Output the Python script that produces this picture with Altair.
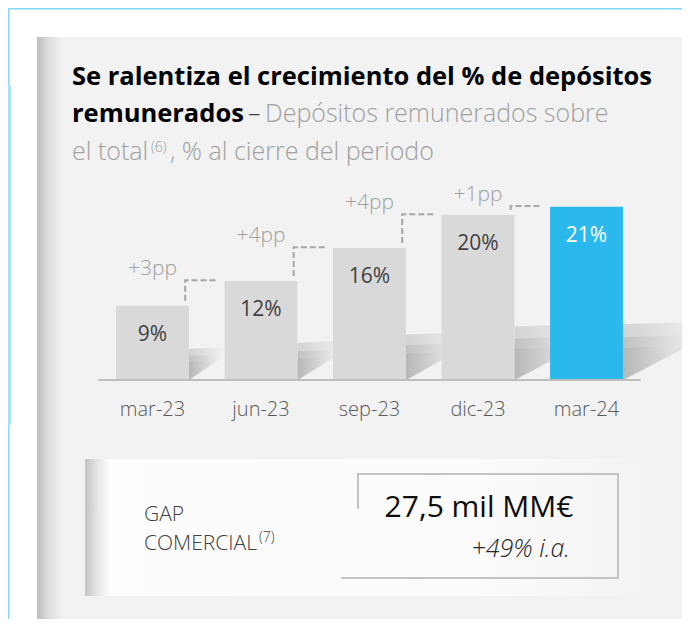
import altair as alt
import pandas as pd

# ---------------- data ----------------
categories = ["mar-23", "jun-23", "sep-23", "dic-23", "mar-24"]
values = [9, 12, 16, 20, 21]
value_labels = ["9%", "12%", "16%", "20%", "21%"]
delta_labels = ["+3pp", "+4pp", "+4pp", "+1pp"]
bar_colors = ["#d9d9d9", "#d9d9d9", "#d9d9d9", "#d9d9d9", "#2bb8ed"]
value_label_colors = ["#404040", "#404040", "#404040", "#404040", "#ffffff"]

title_line1 = "Se ralentiza el crecimiento del % de depósitos"
title_line2 = "remunerados"
title_dash = "–"
subtitle_a = "Depósitos remunerados sobre"
subtitle_b = "el total"
subtitle_note = "(6)"
subtitle_c = ", % al cierre del periodo"

kpi_name_1 = "GAP"
kpi_name_2 = "COMERCIAL"
kpi_note = "(7)"
kpi_value = "27,5 mil MM€"
kpi_change = "+49% i.a."

# ---------------- layout constants ----------------
W, H = 674, 611
FONT = "Open Sans"
HALF = 0.336  # half bar width in band units
XS = alt.Scale(domain=[-0.5, 4.5], range=[90.25, 632.75], nice=False, zero=False)
YS = alt.Scale(domain=[0, 20], range=[372, 207], nice=False, zero=False)

n = len(categories)
bars_df = pd.DataFrame({
    "idx": list(range(n)),
    "cat": categories,
    "value": values,
    "label": value_labels,
    "color": bar_colors,
    "lcolor": value_label_colors,
})
bars_df["x0"] = bars_df["idx"] - HALF
bars_df["x1"] = bars_df["idx"] + HALF

delta_df = pd.DataFrame({
    "idx": list(range(n - 1)),
    "next": values[1:],
    "label": delta_labels,
})

conn_rows = []
for i in range(n - 1):
    r = i + HALF - 0.035
    l_next = (i + 1) - HALF - 0.07
    y0 = values[i] + 0.6
    y1 = values[i + 1] + 0.1
    conn_rows += [
        {"seg": i, "k": 0, "x": r, "y": y0},
        {"seg": i, "k": 1, "x": r, "y": y1},
        {"seg": i, "k": 2, "x": l_next, "y": y1},
    ]
conn_df = pd.DataFrame(conn_rows)

# soft shadows: three stacked wedges per bar to fake a blur
shadow_rows = []
for i, v in enumerate(values):
    for j, s in enumerate([0.75, 1.0, 1.3]):
        t = (1.2 + 0.19 * v) * s
        w = 0.029 * v * s
        r = i + HALF
        shadow_rows += [
            {"g": f"{i}-{j}", "x": r, "top": t, "bot": 0.0},
            {"g": f"{i}-{j}", "x": r + w, "top": t * 1.05, "bot": t * 0.8},
        ]
shadow_df = pd.DataFrame(shadow_rows)

one = pd.DataFrame({"a": [0]})


def rect(x, x2, y, y2, **kw):
    return alt.Chart(one).mark_rect(**kw).encode(
        x=alt.value(x), x2=alt.value(x2), y=alt.value(y), y2=alt.value(y2))


def txt(text, x, y, **kw):
    kw.setdefault("font", FONT)
    kw.setdefault("baseline", "alphabetic")
    kw.setdefault("align", "left")
    return alt.Chart(one).mark_text(text=text, **kw).encode(
        x=alt.value(x), y=alt.value(y))


def hgrad(stops):
    return alt.Gradient(
        gradient="linear", x1=0, x2=1, y1=0, y2=0,
        stops=[alt.GradientStop(color=c, offset=o) for o, c in stops])


layers = []

# frame lines (light blue)
layers.append(rect(0, W, 0, 1.5, color="#86d8f5"))
layers.append(rect(0, 1.5, 0, H, color="#86d8f5"))
layers.append(rect(0, 3, 77, 417, color="#a9e3f8"))

# grey panel + left shading
layers.append(rect(29, W, 29, H, color="#f2f2f2"))
layers.append(rect(29, 55, 29, H, fill=hgrad([(0, "#bdbdbd"), (0.45, "#dedede"), (1, "#f2f2f2")])))

# bar shadows
shadows = alt.Chart(shadow_df).mark_area(
    fill=hgrad([(0, "#a8a8a8"), (0.5, "#cccccc"), (1, "#f2f2f2")]), opacity=0.42
).encode(
    x=alt.X("x:Q", scale=XS, axis=None),
    y=alt.Y("top:Q", scale=YS, axis=None),
    y2="bot:Q",
    detail="g:N",
)
layers.append(shadows)

# bars
bars = alt.Chart(bars_df).mark_rect().encode(
    x=alt.X("x0:Q", scale=XS, axis=None),
    x2="x1:Q",
    y=alt.Y("value:Q", scale=YS, axis=None),
    y2=alt.datum(0),
    color=alt.Color("color:N", scale=None),
)
layers.append(bars)

# baseline (category axis line) and category labels
baseline = alt.Chart(one).mark_rule(color="#bfbfbf", strokeWidth=2).encode(
    x=alt.XDatum(-0.5, scale=XS, axis=None),
    x2=alt.X2Datum(n - 0.5),
    y=alt.YDatum(0, scale=YS, axis=None),
)
layers.append(baseline)

cat_labels = alt.Chart(bars_df).mark_text(
    font=FONT, fontWeight=300, fontSize=20, color="#595959",
    baseline="middle", dy=30
).encode(
    x=alt.X("idx:Q", scale=XS, axis=None),
    y=alt.YDatum(0, scale=YS, axis=None),
    text="cat:N",
)
layers.append(cat_labels)

# value labels inside bars
vals = alt.Chart(bars_df).mark_text(
    font=FONT, fontSize=21, baseline="middle", dy=29
).encode(
    x=alt.X("idx:Q", scale=XS, axis=None),
    y=alt.Y("value:Q", scale=YS, axis=None),
    text="label:N",
    color=alt.Color("lcolor:N", scale=None),
)
layers.append(vals)

# dashed step connectors
conns = alt.Chart(conn_df).mark_line(
    strokeDash=[6, 3], strokeWidth=2, color="#a6a6a6"
).encode(
    x=alt.X("x:Q", scale=XS, axis=None),
    y=alt.Y("y:Q", scale=YS, axis=None),
    detail="seg:N",
    order="k:Q",
)
layers.append(conns)

# delta labels
deltas = alt.Chart(delta_df).mark_text(
    font=FONT, fontWeight=300, fontSize=21, color="#a0a0a0",
    baseline="middle", dy=-12
).encode(
    x=alt.X("idx:Q", scale=XS, axis=None),
    y=alt.Y("next:Q", scale=YS, axis=None),
    text="label:N",
)
layers.append(deltas)

# title block
layers.append(txt(title_line1, 64, 77, fontSize=25.5, fontWeight="bold", color="#000000"))
layers.append(txt(title_line2, 64, 114, fontSize=25.5, fontWeight="bold", color="#000000"))
layers.append(txt(title_dash, 240, 114, fontSize=25, fontWeight=300, color="#404040"))
layers.append(txt(subtitle_a, 257, 114, fontSize=25, fontWeight=300, color="#a0a0a0"))
layers.append(txt(subtitle_b, 64, 152, fontSize=25, fontWeight=300, color="#a0a0a0"))
layers.append(txt(subtitle_note, 143, 144, fontSize=14, fontWeight=300, color="#a0a0a0"))
layers.append(txt(subtitle_c, 162, 152, fontSize=25, fontWeight=300, color="#a0a0a0"))

# KPI box
layers.append(rect(77, 637, 451, 588, fill=hgrad([(0, "#fdfdfd"), (0.7, "#fbfbfb"), (1, "#f3f3f3")])))
layers.append(rect(77, 102, 451, 588, fill=hgrad([(0, "#c2c2c2"), (0.5, "#e6e6e6"), (1, "#fdfdfd")])))
BC = "#c4c4c4"
layers.append(rect(349, 611, 465, 467, color=BC))   # top
layers.append(rect(609, 611, 465, 571, color=BC))   # right
layers.append(rect(333, 611, 569, 571, color=BC))   # bottom
layers.append(rect(349, 351, 465, 501, color=BC))   # left stub

layers.append(txt(kpi_name_1, 136, 513, fontSize=21, fontWeight=300, color="#404040"))
layers.append(txt(kpi_name_2, 136, 542, fontSize=21, fontWeight=300, color="#404040"))
layers.append(txt(kpi_note, 251, 534, fontSize=14, fontWeight=300, color="#404040"))
layers.append(txt(kpi_value, 471, 509, fontSize=30, fontWeight=400, color="#0d0d0d", align="center"))
layers.append(txt(kpi_change, 562, 549, fontSize=25, fontWeight=300, fontStyle="italic",
                  color="#262626", align="right"))

chart = alt.layer(*layers).properties(
    width=W, height=H, padding=0,
    autosize=alt.AutoSizeParams(type="none"),
    background="#ffffff",
).configure_view(stroke=None)

chart.save("out.html", embed_options={"renderer": "svg", "actions": False})
